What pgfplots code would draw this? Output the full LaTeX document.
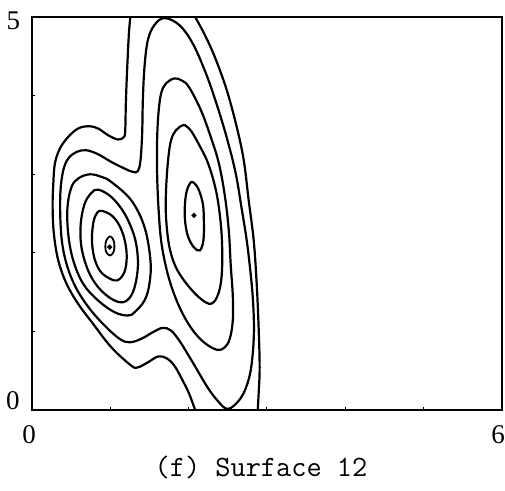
\documentclass[border=0pt]{standalone}
\usepackage{fontspec}
\usepackage{pgfplots}
\pgfplotsset{compat=1.18}
\newfontfamily\digfont{Liberation Serif}
\begin{document}
\begin{tikzpicture}
\path[use as bounding box] (-31.7pt,-80pt) rectangle (473.3pt,410pt);
\begin{axis}[
  at={(0,0)}, anchor=south west,
  scale only axis, width=470pt, height=392.7pt,
  xmin=0, xmax=6, ymin=0, ymax=5,
  xtick={0,...,6}, ytick={0,...,5},
  xticklabels={}, yticklabels={},
  tick align=inside, major tick length=3pt, tick pos=left,
  tick style={line width=1pt, black},
  axis line style={line width=2.3pt},
  every axis plot/.append style={line width=2.2pt, black, no markers},
]
% outer contour, left branch
\addplot[smooth, tension=0.6] coordinates {
(1.262,5.03) (1.241,4.796) (1.220,4.370) (1.203,3.945) (1.194,3.562) (1.178,3.477)
(1.102,3.444) (0.975,3.499) (0.848,3.584) (0.728,3.614) (0.593,3.584) (0.466,3.477)
(0.360,3.329) (0.296,3.138) (0.276,2.883) (0.267,2.584) (0.283,2.245) (0.339,1.905)
(0.445,1.607) (0.593,1.352) (0.784,1.097) (1.017,0.798) (1.271,0.565) (1.356,0.543)
(1.483,0.607) (1.610,0.680) (1.715,0.663) (1.821,0.565) (1.928,0.374) (2.011,0.204) (2.097,-0.03)};
% outer contour, right branch
\addplot[smooth, tension=0.6] coordinates {
(2.071,5.03) (2.198,4.800) (2.338,4.494) (2.490,4.073) (2.618,3.601) (2.707,3.180)
(2.770,2.670) (2.834,2.160) (2.872,1.611) (2.897,1.050) (2.910,0.540) (2.897,0.208) (2.884,-0.03)};
% second contour (both peaks)
\addplot[smooth cycle, tension=0.6] coordinates {
(1.694,4.99) (1.567,4.902) (1.483,4.710) (1.440,4.370) (1.419,3.945) (1.410,3.520)
(1.389,3.180) (1.356,3.043) (1.292,3.031) (1.186,3.074) (1.017,3.158) (0.848,3.256)
(0.699,3.307) (0.572,3.286) (0.466,3.201) (0.403,3.052) (0.368,2.797) (0.365,2.457)
(0.390,2.117) (0.457,1.819) (0.572,1.543) (0.741,1.288) (0.931,1.075) (1.122,0.906)
(1.249,0.862) (1.398,0.906) (1.546,0.990) (1.673,1.046) (1.779,1.011) (1.884,0.884)
(1.991,0.714) (2.118,0.501) (2.245,0.288) (2.372,0.119) (2.490,0.015) (2.605,0.077)
(2.710,0.224) (2.787,0.459) (2.825,0.756) (2.837,1.054) (2.825,1.394) (2.795,1.735)
(2.745,2.159) (2.677,2.584) (2.605,3.010) (2.499,3.435) (2.372,3.860) (2.224,4.286)
(2.055,4.668) (1.884,4.902)};
% right peak contours
\addplot[smooth cycle, tension=0.6] coordinates {
(1.821,4.222) (1.715,4.158) (1.652,4.031) (1.618,3.776) (1.601,3.435) (1.601,3.010)
(1.618,2.584) (1.652,2.159) (1.715,1.819) (1.801,1.522) (1.928,1.224) (2.075,0.990)
(2.224,0.842) (2.372,0.765) (2.465,0.798) (2.529,0.909) (2.567,1.139) (2.567,1.458)
(2.541,1.840) (2.516,2.287) (2.465,2.733) (2.389,3.142) (2.287,3.473) (2.160,3.818)
(2.008,4.111) (1.919,4.194)};
\addplot[smooth cycle, tension=0.6] coordinates {
(1.931,3.626) (1.842,3.562) (1.779,3.435) (1.741,3.180) (1.715,2.798) (1.715,2.453)
(1.754,2.096) (1.830,1.841) (1.944,1.650) (2.097,1.471) (2.224,1.369) (2.300,1.356)
(2.363,1.433) (2.414,1.611) (2.433,1.904) (2.421,2.287) (2.376,2.670) (2.313,2.951)
(2.236,3.180) (2.147,3.358) (2.046,3.537) (1.982,3.607)};
\addplot[smooth cycle, tension=0.6] coordinates {
(2.033,2.899) (1.982,2.797) (1.957,2.631) (1.957,2.415) (1.995,2.211) (2.071,2.071)
(2.147,2.032) (2.192,2.160) (2.198,2.389) (2.186,2.619) (2.135,2.797) (2.084,2.880)};
% left peak contours
\addplot[smooth cycle, tension=0.6] coordinates {
(0.741,3.001) (0.889,2.969) (1.017,2.903) (1.271,2.670) (1.440,2.329) (1.516,1.905)
(1.503,1.607) (1.440,1.394) (1.313,1.245) (1.229,1.203) (1.058,1.245) (0.848,1.394)
(0.657,1.607) (0.530,1.905) (0.466,2.245) (0.457,2.584) (0.508,2.839) (0.597,2.950)};
\addplot[smooth cycle, tension=0.6] coordinates {
(0.848,2.806) (1.017,2.712) (1.186,2.500) (1.313,2.202) (1.356,1.905) (1.334,1.650)
(1.271,1.458) (1.165,1.372) (1.017,1.416) (0.848,1.564) (0.720,1.777) (0.635,2.074)
(0.626,2.372) (0.677,2.628) (0.762,2.763)};
\addplot[smooth cycle, tension=0.6] coordinates {
(0.889,2.536) (1.017,2.480) (1.118,2.352) (1.188,2.161) (1.213,1.943) (1.182,1.752)
(1.093,1.650) (0.991,1.676) (0.877,1.765) (0.801,1.931) (0.769,2.161) (0.788,2.391) (0.832,2.506)};
\addplot[smooth cycle, tension=0.6, line width=1.8pt] coordinates {
(0.997,2.210) (0.953,2.159) (0.940,2.083) (0.953,2.006) (1.004,1.968) (1.048,2.019)
(1.055,2.108) (1.036,2.179)};
% peak points
\addplot[only marks, mark=*, mark size=1.2pt] coordinates {(0.995,2.074) (2.071,2.478)};
\end{axis}
\node[anchor=base, inner sep=0pt, font=\digfont\fontsize{27}{27}\selectfont] at (-18.4pt,380pt) {5};
\node[anchor=base, inner sep=0pt, font=\digfont\fontsize{27}{27}\selectfont] at (-18.9pt,0.7pt) {0};
\node[anchor=base, inner sep=0pt, font=\digfont\fontsize{27}{27}\selectfont] at (-2.7pt,-33.3pt) {0};
\node[anchor=base, inner sep=0pt, font=\digfont\fontsize{27}{27}\selectfont] at (466.3pt,-33.3pt) {6};
\node[anchor=base, inner sep=0pt, font=\ttfamily\fontsize{29.5}{29.5}\selectfont\addfontfeature{FakeBold=0.6}] at (229.3pt,-66.7pt) {(f) Surface 12};
\end{tikzpicture}
\end{document}
